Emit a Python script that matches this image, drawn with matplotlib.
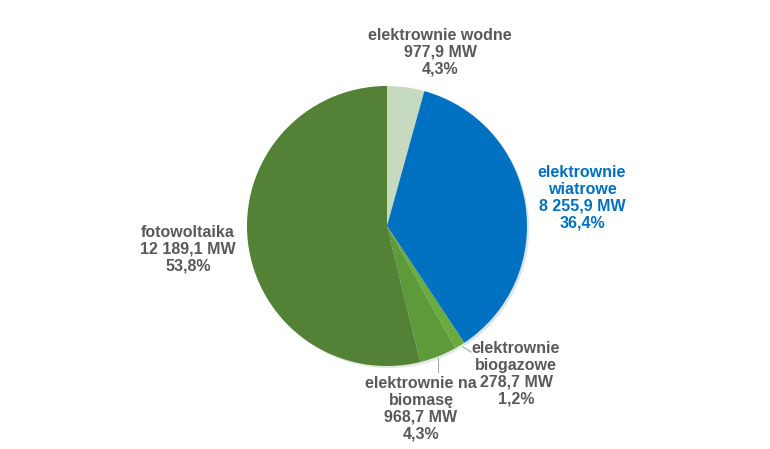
import matplotlib.pyplot as plt
import numpy as np

plt.rcParams['font.family'] = ['Liberation Sans', 'DejaVu Sans']

names = ['elektrownie wodne', 'elektrownie\nwiatrowe', 'elektrownie\nbiogazowe',
         'elektrownie na\nbiomasę', 'fotowoltaika']
mw = ['977,9 MW', '8 255,9 MW', '278,7 MW', '968,7 MW', '12 189,1 MW']
share = [4.3, 36.4, 1.2, 4.3, 53.8]
colors = ['#c6dabf', '#0070c0', '#6aaa3e', '#5c9a3a', '#538135']
text_colors = ['#595959', '#0070c0', '#595959', '#595959', '#595959']
label_xy = [(440, 397), (582, 251), (516, 75), (421, 40), (188, 200)]

fig = plt.figure(figsize=(7.7, 4.49), dpi=100)
ax = fig.add_axes([0, 0, 1, 1])

cx, cy, r = 387, 223, 140
ax.pie(share, colors=colors, startangle=90, counterclock=False,
       center=(cx, cy), radius=r, frame=True,
       wedgeprops=dict(linewidth=0),
       shadow=dict(ox=1.5, oy=-1.5, shade=0.3, alpha=0.15))
ax.set_xlim(0, 770)
ax.set_ylim(0, 449)
ax.set_aspect('equal')
ax.axis('off')

for i in range(len(names)):
    txt = names[i] + '\n' + mw[i] + '\n' + str(share[i]).replace('.', ',') + '%'
    ax.text(label_xy[i][0], label_xy[i][1], txt, ha='center', va='center',
            fontsize=11.5, fontweight='bold', color=text_colors[i],
            linespacing=1.15)

# linie odniesienia
ax.plot([463, 471], [102, 97], color='#a6a6a6', lw=0.8)
ax.plot([438, 438], [91, 77], color='#a6a6a6', lw=0.8)

fig.savefig('out.png', dpi=100)
